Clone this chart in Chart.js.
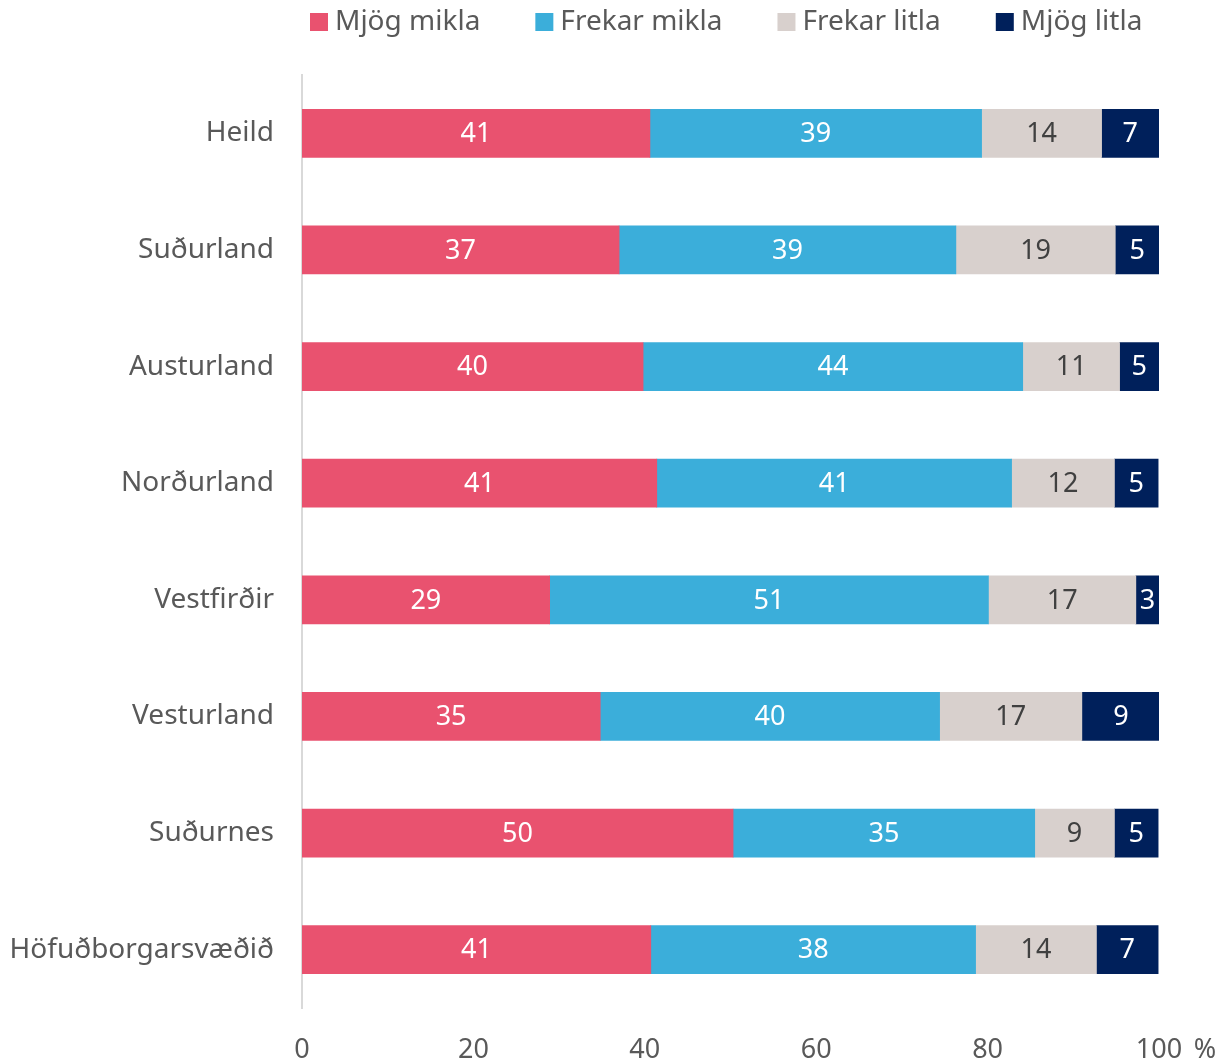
<!DOCTYPE html>
<html>
<head>
<meta charset="utf-8">
<script src="https://cdn.jsdelivr.net/npm/chart.js@4"></script>
<style>
  html, body { margin: 0; padding: 0; background: #fff; }
  #wrap { width: 1232px; height: 1064px; }
</style>
</head>
<body>
<div id="wrap"><canvas id="chart"></canvas></div>
<script>
const regions = [
  "Heild", "Suðurland", "Austurland", "Norðurland",
  "Vestfirðir", "Vesturland", "Suðurnes", "Höfuðborgarsvæðið"
];
const seriesNames = ["Mjög mikla", "Frekar mikla", "Frekar litla", "Mjög litla"];
const mjogMikla   = [40.6, 37.0, 39.8, 41.4, 28.9, 34.8, 50.3, 40.7];
const frekarMikla = [38.7, 39.3, 44.3, 41.4, 51.2, 39.6, 35.2, 37.9];
const frekarLitla = [14.0, 18.6, 11.3, 12.0, 17.2, 16.6, 9.3, 14.1];
const mjogLitla   = [6.7, 5.1, 4.6, 5.1, 2.7, 9.1, 5.1, 7.2];
const xTicks = [0, 20, 40, 60, 80, 100];

const colors = ["#E9526F", "#3BAEDA", "#D8D0CD", "#00205B"];
const labelColors = ["#ffffff", "#ffffff", "#404040", "#ffffff"];
const FONT = "'Noto Sans', sans-serif";
const GREY = "#595959";

// numbers inside the bars, the % sign after the axis, and the legend row
const extras = {
  id: "extras",
  afterDatasetsDraw(chart) {
    const ctx = chart.ctx;
    ctx.save();
    ctx.font = "27px " + FONT;
    ctx.textAlign = "center";
    ctx.textBaseline = "middle";
    chart.data.datasets.forEach((ds, i) => {
      const meta = chart.getDatasetMeta(i);
      meta.data.forEach((bar, j) => {
        ctx.fillStyle = labelColors[i];
        ctx.fillText(Math.round(ds.data[j]), (bar.x + bar.base) / 2, bar.y + 1);
      });
    });

    const xs = chart.scales.x;
    ctx.fillStyle = GREY;
    ctx.fillText("%", xs.right + 46, xs.top + 42);

    // legend
    ctx.font = "28px " + FONT;
    ctx.textAlign = "left";
    let x = 310;
    const y = 22;
    chart.data.datasets.forEach((ds) => {
      ctx.fillStyle = ds.backgroundColor;
      ctx.fillRect(x, y - 9, 18, 18);
      ctx.fillStyle = GREY;
      ctx.fillText(ds.label, x + 25, y);
      x += 25 + ctx.measureText(ds.label).width + 55;
    });
    ctx.restore();
  }
};

const datasets = [mjogMikla, frekarMikla, frekarLitla, mjogLitla].map((d, i) => ({
  label: seriesNames[i],
  data: d,
  backgroundColor: colors[i],
  borderWidth: 0,
  barThickness: 48
}));

new Chart(document.getElementById("chart"), {
  type: "bar",
  data: { labels: regions, datasets },
  plugins: [extras],
  options: {
    indexAxis: "y",
    responsive: true,
    maintainAspectRatio: false,
    animation: false,
    layout: { padding: { left: 10, right: 73, top: 75, bottom: 0 } },
    plugins: {
      tooltip: { enabled: false },
      legend: { display: false }
    },
    scales: {
      x: {
        stacked: true,
        min: 0,
        max: 100,
        afterBuildTicks(scale) {
          scale.ticks = xTicks.map((v) => ({ value: v }));
        },
        afterFit(scale) { scale.height = 56; },
        grid: { display: false },
        border: { display: false },
        ticks: {
          color: GREY,
          font: { family: FONT, size: 27 },
          padding: 18,
          maxRotation: 0
        }
      },
      y: {
        stacked: true,
        afterFit(scale) { scale.width = 292; },
        grid: { display: false },
        border: { display: true, color: "#D9D9D9", width: 2 },
        ticks: {
          color: GREY,
          font: { family: FONT, size: 28 },
          padding: 20
        }
      }
    }
  }
});
</script>
</body>
</html>
